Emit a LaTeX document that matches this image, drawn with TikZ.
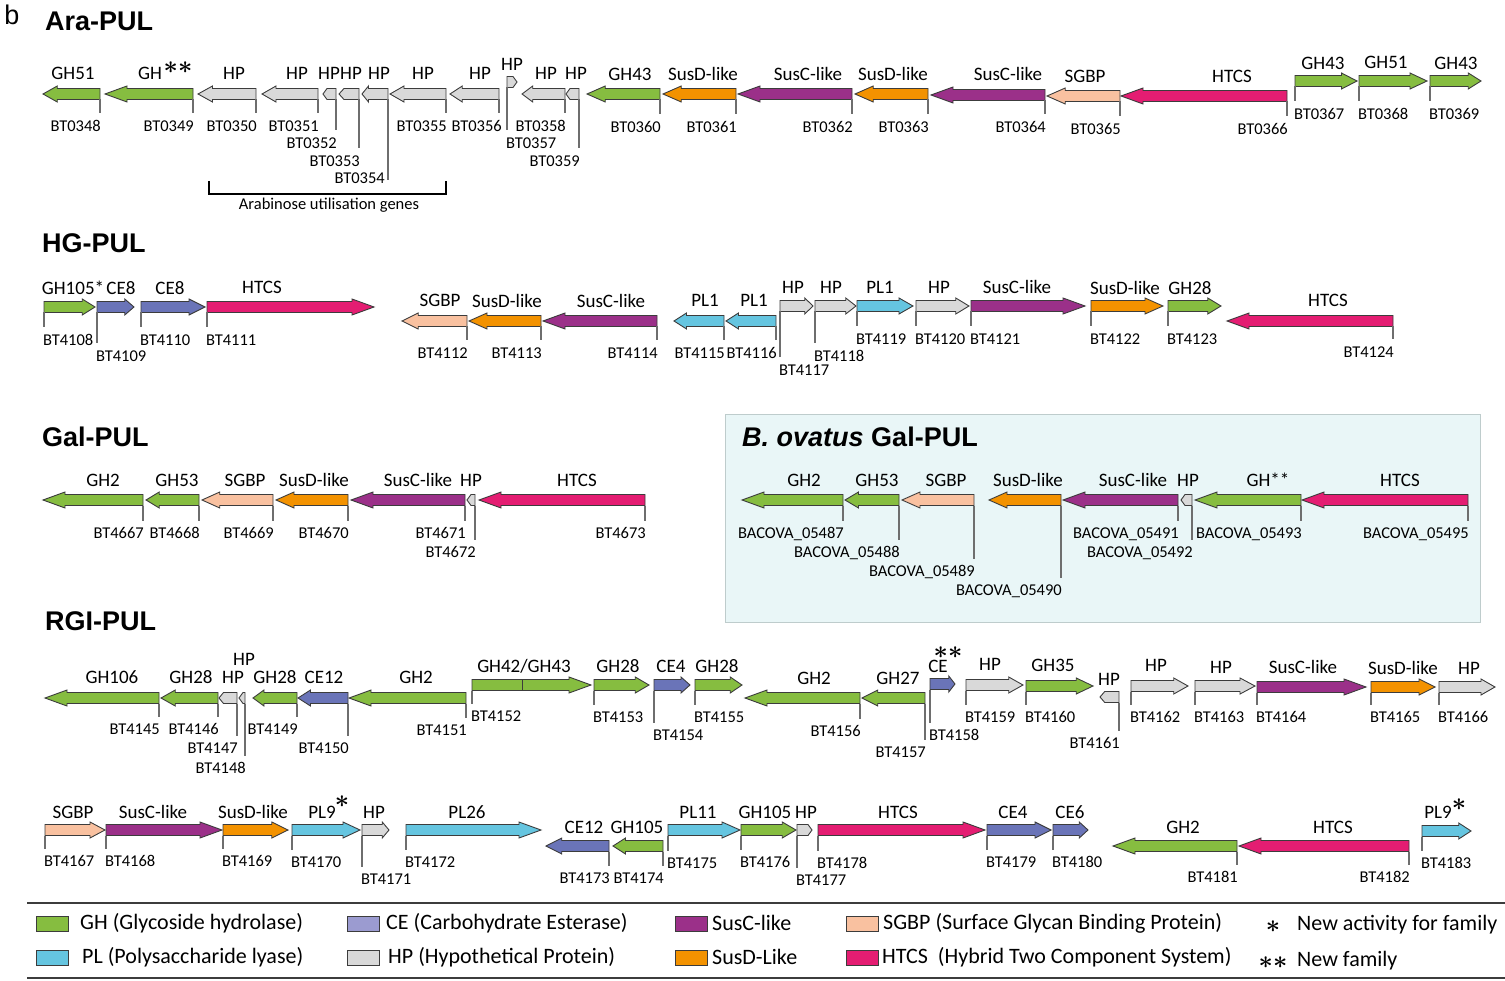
\documentclass[tikz,border=0pt]{standalone}
\usepackage{fontspec}
\setmainfont{Carlito}
\newfontfamily\headfont{Liberation Sans}

\definecolor{ghc}{RGB}{134,189,64}
\definecolor{cec}{RGB}{106,116,184}
\definecolor{cel}{RGB}{155,155,208}
\definecolor{plc}{RGB}{101,197,224}
\definecolor{hpc}{RGB}{217,217,217}
\definecolor{susc}{RGB}{155,48,137}
\definecolor{susd}{RGB}{243,146,0}
\definecolor{sgbp}{RGB}{249,193,160}
\definecolor{htcs}{RGB}{228,29,114}
\definecolor{boxfill}{RGB}{233,246,247}
\definecolor{boxline}{RGB}{190,204,204}
\definecolor{linec}{RGB}{60,60,60}
\definecolor{tickc}{RGB}{110,110,110}

\newcommand\locfont{\fontsize{16.5}{19}\selectfont}
\newcommand\famfont{\fontsize{19}{21}\selectfont}
\newcommand\legfont{\fontsize{22}{24}\selectfont}
\newcommand\pulfont{\headfont\bfseries\fontsize{27}{30}\selectfont}

% gene arrow: name, tail x, tip x, y, colour, label x, label y, label
\newcommand\gene[8]{%
  \pgfmathsetmacro\glen{abs(#3-#2)}%
  \pgfmathsetmacro\ghl{min(22,max(4,0.25*\glen))*(#3-#2)/\glen}%
  \pgfmathsetmacro\ghw{\glen<25 ? 5.5 : 8}%
  \draw[genebox,fill=#5] (#2,#4-5.5) -- ({#3-\ghl},#4-5.5) -- ({#3-\ghl},#4-\ghw)
    -- (#3,#4) -- ({#3-\ghl},#4+\ghw) -- ({#3-\ghl},#4+5.5) -- (#2,#4+5.5) -- cycle;
  \coordinate (#1) at (#2,#4+5.5);
  \node[fam] (#1f) at (#6,#7) {#8};%
}
% locus tag: gene name, tick end y, placement, text
\newcommand\locus[4]{%
  \draw[locline] (#1) -- (#1|-0,#2) coordinate (#1e);
  \node[bt,#3] (#1l) at (#1e) {#4};%
}

\begin{document}
\begin{tikzpicture}[x=1pt,y=-1pt,
    genebox/.style={draw=linec,line width=0.9pt,line join=miter},
    fam/.style={font=\famfont,inner sep=1pt},
    bt/.style={font=\locfont,inner sep=1pt},
    locline/.style={draw=tickc,line width=1.8pt},
    tagne/.style={anchor=north east,xshift=2pt,yshift=-6pt},
    tagnw/.style={anchor=north west,xshift=-2pt,yshift=-6pt},
    tage/.style={anchor=east,xshift=-2pt,yshift=2pt},
    pul/.style={font=\pulfont,anchor=west,inner sep=0pt},
    astx/.style={font=\boldmath\fontsize{30}{30}\selectfont,inner sep=0pt},
    swatch/.style={draw=linec,line width=0.9pt,minimum width=32pt,minimum height=15pt,inner sep=0pt},
    legtext/.style={font=\legfont,anchor=west,inner sep=0pt},
    legrule/.style={draw=linec,line width=2.2pt}]
\useasboundingbox (0,0) rectangle (1505,981);

\node[font=\headfont\fontsize{27}{30}\selectfont,inner sep=0pt] (tb) at (12,15) {b};

% Ara-PUL
\node[pul] (tara) at (45,21) {Ara-PUL};
\gene{a348}{100}{43}{94}{ghc}{73}{73}{GH51}
\gene{a349}{193}{105}{94}{ghc}{150}{73}{GH}
\node[astx] (a349s) at (178,68) {$\ast\ast$};
\gene{a350}{256}{198}{94}{hpc}{234}{73}{HP}
\gene{a351}{318}{262}{94}{hpc}{297}{73}{HP}
\gene{a352}{336}{323}{94}{hpc}{329}{73}{HP}
\gene{a353}{359}{339}{94}{hpc}{351}{73}{HP}
\gene{a354}{388}{362}{94}{hpc}{379}{73}{HP}
\gene{a355}{446}{390}{94}{hpc}{423}{73}{HP}
\gene{a356}{499}{450}{94}{hpc}{480}{73}{HP}
\gene{a357}{507}{517}{82}{hpc}{512}{64}{HP}
\gene{a358}{565}{522}{94}{hpc}{546}{73}{HP}
\gene{a359}{579}{566}{94}{hpc}{576}{73}{HP}
\gene{a360}{660}{587}{94}{ghc}{630}{74}{GH43}
\gene{a361}{736}{663}{94}{susd}{703}{74}{SusD-like}
\gene{a362}{852}{738}{94}{susc}{808}{74}{SusC-like}
\gene{a363}{928}{855}{94}{susd}{893}{74}{SusD-like}
\gene{a364}{1045}{931}{95}{susc}{1008}{74}{SusC-like}
\gene{a365}{1120}{1047}{96}{sgbp}{1085}{76}{SGBP}
\gene{a366}{1287}{1121}{96}{htcs}{1232}{76}{HTCS}
\gene{a367}{1295}{1357}{81}{ghc}{1323}{63}{GH43}
\gene{a368}{1359}{1427}{81}{ghc}{1386}{62}{GH51}
\gene{a369}{1430}{1481}{81}{ghc}{1456}{63}{GH43}

\locus{a348}{113.5}{tagne}{BT0348}
\locus{a349}{113.5}{tagne}{BT0349}
\locus{a350}{113.5}{tagne}{BT0350}
\locus{a351}{113.5}{tagne}{BT0351}
\locus{a352}{130.5}{tagne}{BT0352}
\locus{a353}{148.5}{tagne}{BT0353}
\locus{a354}{180}{tage}{BT0354}
\locus{a355}{113.5}{tagne}{BT0355}
\locus{a356}{113.5}{tagne,xshift=2pt}{BT0356}
\locus{a357}{130.5}{tagnw}{BT0357}
\locus{a358}{113.5}{tagne}{BT0358}
\locus{a359}{148.5}{tagne}{BT0359}
\locus{a360}{114.5}{tagne}{BT0360}
\locus{a361}{114.5}{tagne}{BT0361}
\locus{a362}{114.5}{tagne}{BT0362}
\locus{a363}{114.5}{tagne}{BT0363}
\locus{a364}{114.5}{tagne}{BT0364}
\locus{a365}{116.5}{tagne}{BT0365}
\locus{a366}{116.5}{tagne}{BT0366}
\locus{a367}{101.5}{tagnw}{BT0367}
\locus{a368}{101.5}{tagnw}{BT0368}
\locus{a369}{101.5}{tagnw}{BT0369}

\draw[line width=1.2pt] (209,181) -- (209,194) -- (446,194) -- (446,181);
\node[font=\fontsize{16.5}{18}\selectfont,inner sep=0pt] (arab) at (329,205) {Arabinose utilisation genes};

% HG-PUL
\node[pul] (thg) at (42,243) {HG-PUL};
\gene{h108}{44}{95}{307}{ghc}{73}{288}{GH105*}
\gene{h109}{97}{134}{307}{cec}{121}{288}{CE8}
\gene{h110}{141}{205}{307}{cec}{170}{288}{CE8}
\gene{h111}{207}{374}{307}{htcs}{262}{287}{HTCS}
\gene{h112}{467}{402}{321}{sgbp}{440}{300}{SGBP}
\gene{h113}{541}{469}{321}{susd}{507}{301}{SusD-like}
\gene{h114}{657}{543}{321}{susc}{611}{301}{SusC-like}
\gene{h115}{724}{674}{321}{plc}{705}{300}{PL1}
\gene{h116}{776}{726}{321}{plc}{754}{300}{PL1}
\gene{h117}{780}{813}{306}{hpc}{793}{287}{HP}
\gene{h118}{815}{856}{306}{hpc}{831}{287}{HP}
\gene{h119}{857}{913}{306}{plc}{880}{287}{PL1}
\gene{h120}{916}{969}{306}{hpc}{939}{287}{HP}
\gene{h121}{971}{1085}{306}{susc}{1017}{287}{SusC-like}
\gene{h122}{1091}{1163}{306}{susd}{1125}{288}{SusD-like}
\gene{h123}{1168}{1221}{306}{ghc}{1190}{288}{GH28}
\gene{h124}{1393}{1227}{321}{htcs}{1328}{300}{HTCS}

\locus{h108}{327.5}{tagnw}{BT4108}
\locus{h109}{343.5}{tagnw}{BT4109}
\locus{h110}{327.5}{tagnw}{BT4110}
\locus{h111}{327.5}{tagnw}{BT4111}
\locus{h112}{340.5}{tagne}{BT4112}
\locus{h113}{340.5}{tagne}{BT4113}
\locus{h114}{340.5}{tagne}{BT4114}
\locus{h115}{340.5}{tagne}{BT4115}
\locus{h116}{340.5}{tagne}{BT4116}
\locus{h117}{357.5}{tagnw}{BT4117}
\locus{h118}{343.5}{tagnw}{BT4118}
\locus{h119}{326.5}{tagnw}{BT4119}
\locus{h120}{326.5}{tagnw}{BT4120}
\locus{h121}{326.5}{tagnw}{BT4121}
\locus{h122}{326.5}{tagnw}{BT4122}
\locus{h123}{326.5}{tagnw}{BT4123}
\locus{h124}{339.5}{tagne}{BT4124}

% Gal-PUL
\node[pul] (tgal) at (42,437) {Gal-PUL};
\gene{g667}{143}{43}{500}{ghc}{103}{480}{GH2}
\gene{g668}{199}{146}{500}{ghc}{177}{480}{GH53}
\gene{g669}{273}{202}{500}{sgbp}{245}{480}{SGBP}
\gene{g670}{348}{276}{500}{susd}{314}{480}{SusD-like}
\gene{g671}{465}{351}{500}{susc}{418}{480}{SusC-like}
\gene{g672}{475}{467}{500}{hpc}{471}{480}{HP}
\gene{g673}{645}{479}{500}{htcs}{577}{480}{HTCS}

\locus{g667}{520.5}{tagne}{BT4667}
\locus{g668}{520.5}{tagne}{BT4668}
\locus{g669}{520.5}{tagne}{BT4669}
\locus{g670}{520.5}{tagne}{BT4670}
\locus{g671}{520.5}{tagne}{BT4671}
\locus{g672}{539.5}{tagne}{BT4672}
\locus{g673}{520.5}{tagne}{BT4673}

% B. ovatus Gal-PUL
\draw[draw=boxline,fill=boxfill,line width=1pt] (725,415) rectangle (1480,622);
\node[pul] (tova) at (742,437) {\itshape B. ovatus\/ \upshape Gal-PUL};
\gene{o487}{843}{742}{500}{ghc}{804}{480}{GH2}
\gene{o488}{899}{845}{500}{ghc}{877}{480}{GH53}
\gene{o489}{974}{902}{500}{sgbp}{946}{480}{SGBP}
\gene{o490}{1061}{989}{500}{susd}{1028}{480}{SusD-like}
\gene{o491}{1178}{1063}{500}{susc}{1133}{480}{SusC-like}
\gene{o492}{1192}{1181}{500}{hpc}{1188}{480}{HP}
\gene{o493}{1301}{1195}{500}{ghc}{1268}{480}{GH**}
\gene{o495}{1468}{1302}{500}{htcs}{1400}{480}{HTCS}

\locus{o487}{520.5}{tagne}{BACOVA\_05487}
\locus{o488}{539.5}{tagne}{BACOVA\_05488}
\locus{o489}{558.5}{tagne}{BACOVA\_05489}
\locus{o490}{577.5}{tagne}{BACOVA\_05490}
\locus{o491}{520.5}{tagne}{BACOVA\_05491}
\locus{o492}{539.5}{tagne}{BACOVA\_05492}
\locus{o493}{520.5}{tagne}{BACOVA\_05493}
\locus{o495}{520.5}{tagne}{BACOVA\_05495}

% RGI-PUL, first row
\node[pul] (trgi) at (45,621) {RGI-PUL};
\gene{r145}{159}{45}{698}{ghc}{112}{677}{GH106}
\gene{r146}{218}{161}{698}{ghc}{191}{677}{GH28}
\gene{r147}{237}{219}{698}{hpc}{233}{677}{HP}
\gene{r148}{245}{239}{698}{hpc}{244}{659}{HP}
\gene{r149}{297}{253}{698}{ghc}{275}{677}{GH28}
\gene{r150}{348}{298}{698}{cec}{324}{677}{CE12}
\gene{r151}{466}{349}{698}{ghc}{416}{677}{GH2}
\gene{r152}{472}{591}{685}{ghc}{524}{666}{GH42/GH43}
\draw[genebox] (522,679.5) -- (522,690.5);
\gene{r153}{594}{649}{685}{ghc}{618}{666}{GH28}
\gene{r154}{654}{690}{685}{cec}{671}{666}{CE4}
\gene{r155}{695}{742}{685}{ghc}{717}{666}{GH28}
\gene{r156}{860}{745}{698}{ghc}{814}{678}{GH2}
\gene{r157}{925}{862}{698}{ghc}{898}{678}{GH27}
\gene{r158}{930}{955}{684}{cec}{938}{666}{CE}
\node[astx] (r158s) at (948,653) {$\ast\ast$};
\gene{r159}{966}{1023}{685}{hpc}{990}{664}{HP}
\gene{r160}{1026}{1093}{686}{ghc}{1053}{665}{GH35}
\gene{r161}{1119}{1100}{697}{hpc}{1109}{679}{HP}
\gene{r162}{1131}{1188}{686}{hpc}{1156}{665}{HP}
\gene{r163}{1195}{1255}{686}{hpc}{1221}{667}{HP}
\gene{r164}{1257}{1366}{687}{susc}{1303}{667}{SusC-like}
\gene{r165}{1371}{1435}{687}{susd}{1403}{668}{SusD-like}
\gene{r166}{1439}{1495}{687}{hpc}{1469}{668}{HP}

\locus{r145}{716.5}{tagne}{BT4145}
\locus{r146}{716.5}{tagne}{BT4146}
\locus{r147}{735.5}{tagne}{BT4147}
\locus{r148}{755.5}{tagne}{BT4148}
\locus{r149}{716.5}{tagne}{BT4149}
\locus{r150}{735.5}{tagne}{BT4150}
\locus{r151}{717.5}{tagne}{BT4151}
\locus{r152}{703.5}{tagnw}{BT4152}
\locus{r153}{704.5}{tagnw}{BT4153}
\locus{r154}{722.5}{tagnw}{BT4154}
\locus{r155}{704.5}{tagnw}{BT4155}
\locus{r156}{718.5}{tagne}{BT4156}
\locus{r157}{739.5}{tagne}{BT4157}
\locus{r158}{722.5}{tagnw}{BT4158}
\locus{r159}{704.5}{tagnw}{BT4159}
\locus{r160}{704.5}{tagnw}{BT4160}
\locus{r161}{730.5}{tagne}{BT4161}
\locus{r162}{704.5}{tagnw}{BT4162}
\locus{r163}{704.5}{tagnw}{BT4163}
\locus{r164}{704.5}{tagnw}{BT4164}
\locus{r165}{704.5}{tagnw}{BT4165}
\locus{r166}{704.5}{tagnw}{BT4166}

% RGI-PUL, second row
\gene{r167}{45}{105}{830}{sgbp}{73}{812}{SGBP}
\gene{r168}{106}{222}{830}{susc}{153}{812}{SusC-like}
\gene{r169}{223}{288}{830}{susd}{253}{812}{SusD-like}
\gene{r170}{292}{360}{830}{plc}{322}{812}{PL9}
\node[astx] (r170s) at (342,802) {$\ast$};
\gene{r171}{362}{389}{830}{hpc}{374}{812}{HP}
\gene{r172}{406}{541}{830}{plc}{467}{812}{PL26}
\gene{r173}{609}{546}{846}{cec}{584}{827}{CE12}
\gene{r174}{663}{613}{846}{ghc}{637}{827}{GH105}
\gene{r175}{668}{740}{830}{plc}{698}{812}{PL11}
\gene{r176}{741}{796}{830}{ghc}{765}{812}{GH105}
\gene{r177}{797}{812}{830}{hpc}{806}{812}{HP}
\gene{r178}{818}{985}{830}{htcs}{898}{812}{HTCS}
\gene{r179}{987}{1051}{830}{cec}{1013}{812}{CE4}
\gene{r180}{1053}{1088}{830}{cec}{1070}{812}{CE6}
\gene{r181}{1237}{1113}{846}{ghc}{1183}{827}{GH2}
\gene{r182}{1409}{1239}{846}{htcs}{1333}{827}{HTCS}
\gene{r183}{1422}{1471}{831}{plc}{1438}{812}{PL9}
\node[astx] (r183s) at (1459,805) {$\ast$};

\locus{r167}{848.5}{tagnw}{BT4167}
\locus{r168}{848.5}{tagnw}{BT4168}
\locus{r169}{848.5}{tagnw}{BT4169}
\locus{r170}{849.5}{tagnw}{BT4170}
\locus{r171}{866.5}{tagnw}{BT4171}
\locus{r172}{849.5}{tagnw}{BT4172}
\locus{r173}{865.5}{tagne}{BT4173}
\locus{r174}{865.5}{tagne}{BT4174}
\locus{r175}{850.5}{tagnw}{BT4175}
\locus{r176}{849.5}{tagnw}{BT4176}
\locus{r177}{867.5}{tagnw}{BT4177}
\locus{r178}{850.5}{tagnw}{BT4178}
\locus{r179}{849.5}{tagnw}{BT4179}
\locus{r180}{849.5}{tagnw}{BT4180}
\locus{r181}{864.5}{tagne}{BT4181}
\locus{r182}{864.5}{tagne}{BT4182}
\locus{r183}{850.5}{tagnw}{BT4183}

% key
\draw[legrule] (27,903) -- (1505,903);
\draw[legrule] (27,978) -- (1505,978);
\node[swatch,fill=ghc] (kgh) at (52,923.5) {};
\node[legtext] (kght) at (80,923) {GH (Glycoside hydrolase)};
\node[swatch,fill=plc] (kpl) at (52,957.5) {};
\node[legtext] (kplt) at (82,957) {PL (Polysaccharide lyase)};
\node[swatch,fill=cel] (kce) at (363,923.5) {};
\node[legtext] (kcet) at (386,923) {CE (Carbohydrate Esterase)};
\node[swatch,fill=hpc] (khp) at (363,957.5) {};
\node[legtext] (khpt) at (388,957) {HP (Hypothetical Protein)};
\node[swatch,fill=susc] (ksc) at (691,923.5) {};
\node[legtext] (ksct) at (712,923) {SusC-like};
\node[swatch,fill=susd] (ksd) at (691,957.5) {};
\node[legtext] (ksdt) at (712,957) {SusD-Like};
\node[swatch,fill=sgbp] (ksg) at (862,923.5) {};
\node[legtext] (ksgt) at (883,923) {SGBP (Surface Glycan Binding Protein)};
\node[swatch,fill=htcs] (kht) at (862,957.5) {};
\node[legtext] (khtt) at (882,957) {HTCS\ \ (Hybrid Two Component System)};
\node[astx] (kone) at (1273,927) {$\ast$};
\node[legtext] (konet) at (1297,925) {New activity for family};
\node[astx] (ktwo) at (1273,963) {$\ast\ast$};
\node[legtext] (ktwot) at (1297,961) {New family};
\end{tikzpicture}
\end{document}
